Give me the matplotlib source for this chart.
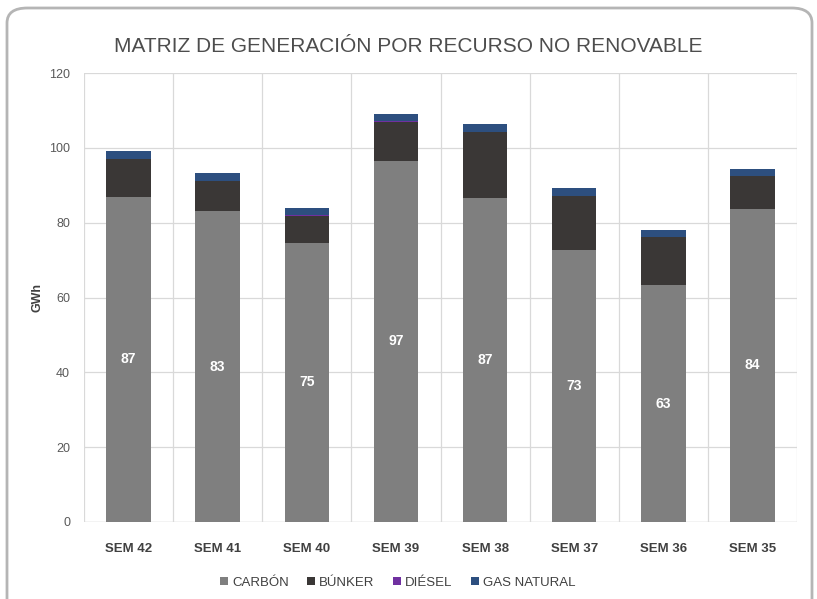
import matplotlib
matplotlib.use("Agg")
import matplotlib.pyplot as plt
from matplotlib.patches import FancyBboxPatch
import numpy as np

plt.rcParams['font.family'] = ['Liberation Sans', 'DejaVu Sans']

semanas = ["SEM 42", "SEM 41", "SEM 40", "SEM 39", "SEM 38", "SEM 37", "SEM 36", "SEM 35"]
carbon = [86.9, 83.0, 74.6, 96.6, 86.7, 72.6, 63.3, 83.7]
bunker = [10.0, 8.1, 7.3, 10.4, 17.6, 14.6, 12.8, 8.8]
diesel = [0.05, 0.05, 0.05, 0.05, 0.05, 0.05, 0.05, 0.05]
gas_natural = [2.2, 2.1, 2.1, 1.9, 2.1, 2.0, 1.9, 1.8]

series = [
    ("CARBÓN", carbon, "#7f7f7f"),
    ("BÚNKER", bunker, "#3a3736"),
    ("DIÉSEL", diesel, "#7030a0"),
    ("GAS NATURAL", gas_natural, "#2d4f7f"),
]

fig = plt.figure(figsize=(8.17, 5.99), dpi=100)

# rounded frame around the chart
frame = FancyBboxPatch((7 / 817, -0.05), 805 / 817, 1 - 8 / 599 + 0.05,
                       boxstyle="round,pad=0,rounding_size=0.025",
                       transform=fig.transFigure, facecolor="white",
                       edgecolor="#b5b5b5", linewidth=2, zorder=-1)
fig.patches.append(frame)

ax = fig.add_axes([84 / 817, 1 - 522 / 599, 713 / 817, 449 / 599])
ax.set_facecolor("none")

x = np.arange(len(semanas))
bottom = np.zeros(len(semanas))
for name, vals, color in series:
    ax.bar(x, vals, width=0.5, bottom=bottom, color=color, label=name, zorder=3)
    bottom += np.array(vals)

# data labels on carbon segment
for xi, v in zip(x, carbon):
    ax.text(xi, v / 2, f"{v:.0f}", ha="center", va="center", color="white",
            fontsize=10, fontweight="bold", zorder=4)

ax.set_xlim(-0.5, len(semanas) - 0.5)
ax.set_ylim(0, 120)
ax.set_yticks(range(0, 121, 20))
ax.set_xticks(x)
ax.set_xticklabels(semanas, fontsize=9.5, fontweight="bold", color="#404040")
ax.tick_params(axis="y", labelsize=9, labelcolor="#595959", length=0, pad=10)
ax.tick_params(axis="x", length=0, pad=15)

# gridlines: horizontal at ticks, vertical at category borders
ax.grid(axis="y", color="#d9d9d9", linewidth=0.9, zorder=0)
for b in np.arange(-0.5, len(semanas), 1.0):
    ax.axvline(b, color="#d9d9d9", linewidth=0.9, zorder=0)
for s in ax.spines.values():
    s.set_visible(False)
ax.axhline(0, color="#d9d9d9", linewidth=1.0, zorder=1)

ax.set_ylabel("GWh", fontsize=9, fontweight="bold", color="#404040")
ax.yaxis.set_label_coords(-0.0575, 0.5)

fig.text(0.5, 1 - 46 / 599, "MATRIZ DE GENERACIÓN POR RECURSO NO RENOVABLE",
         ha="center", va="center", fontsize=15, color="#4d4d4d")

leg = ax.legend(loc="upper center", bbox_to_anchor=(0.44, -0.095), ncol=4,
                frameon=False, fontsize=9.5, handlelength=0.6, handleheight=0.6,
                handletextpad=0.3, columnspacing=1.4)
for t in leg.get_texts():
    t.set_color("#404040")

fig.savefig("out.png", dpi=100)
